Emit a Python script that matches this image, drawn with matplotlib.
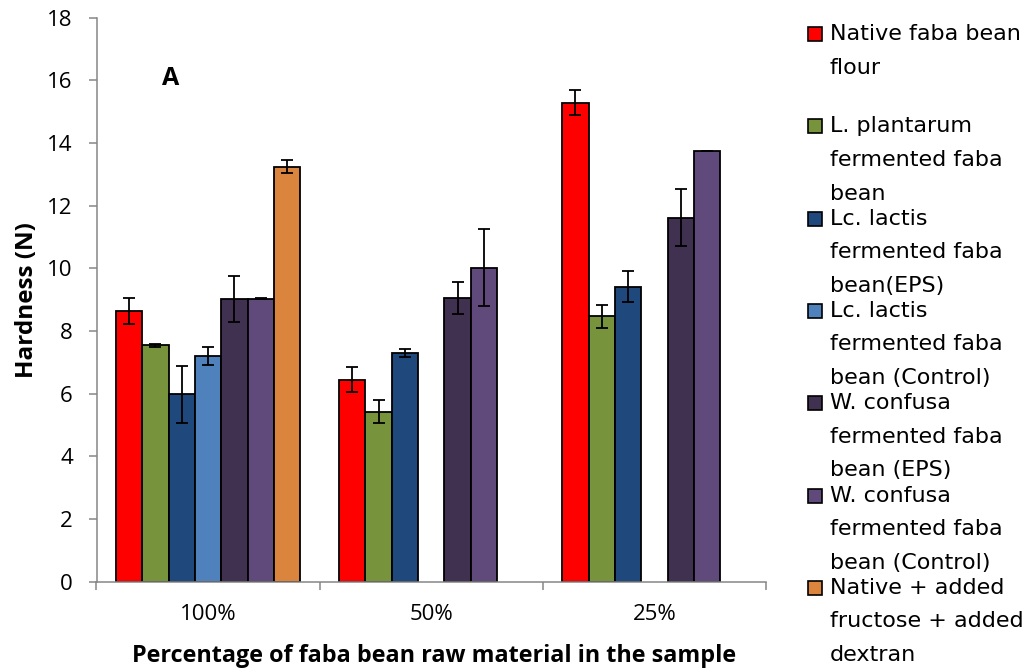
import numpy as np
import matplotlib.pyplot as plt
from matplotlib.patches import Rectangle

# group labels on the x axis
groups = ['100%', '50%', '25%']

# series names (line breaks as drawn in the legend)
series = ['Native faba bean\nflour',
          'L. plantarum\nfermented faba\nbean',
          'Lc. lactis\nfermented faba\nbean(EPS)',
          'Lc. lactis\nfermented faba\nbean (Control)',
          'W. confusa\nfermented faba\nbean (EPS)',
          'W. confusa\nfermented faba\nbean (Control)',
          'Native + added\nfructose + added\ndextran']

colors = ['#FF0000', '#77933C', '#1F497D', '#4F81BD', '#403151', '#604A7B', '#DB843D']

# hardness (N) per series, one value per group; nan = not measured
native = [8.65, 6.45, 15.28]
plantarum = [7.55, 5.43, 8.47]
lactis_eps = [5.98, 7.31, 9.42]
lactis_ctrl = [7.21, np.nan, np.nan]
confusa_eps = [9.03, 9.05, 11.62]
confusa_ctrl = [9.03, 10.02, 13.75]
native_added = [13.25, np.nan, np.nan]

# standard deviations
native_sd = [0.41, 0.40, 0.40]
plantarum_sd = [0.05, 0.36, 0.37]
lactis_eps_sd = [0.91, 0.13, 0.49]
lactis_ctrl_sd = [0.28, np.nan, np.nan]
confusa_eps_sd = [0.74, 0.50, 0.92]
confusa_ctrl_sd = [0.01, 1.23, 0.01]
native_added_sd = [0.20, np.nan, np.nan]

values = [native, plantarum, lactis_eps, lactis_ctrl, confusa_eps, confusa_ctrl, native_added]
errors = [native_sd, plantarum_sd, lactis_eps_sd, lactis_ctrl_sd, confusa_eps_sd, confusa_ctrl_sd, native_added_sd]

W, H = 1029, 670
fig = plt.figure(figsize=(W / 100, H / 100), dpi=100)
ax = fig.add_axes([96.5 / W, 1 - 581.7 / H, 669.5 / W, 564.0 / H])

x = np.arange(len(groups))
bw = 0.118
for i, (v, e) in enumerate(zip(values, errors)):
    v = np.array(v, dtype=float)
    e = np.array(e, dtype=float)
    ok = ~np.isnan(v)
    pos = x[ok] + (i - 3) * bw
    ax.bar(pos, v[ok], bw, color=colors[i], edgecolor='black', linewidth=1.3, zorder=2)
    ax.errorbar(pos, v[ok], yerr=e[ok], fmt='none', ecolor='black',
                elinewidth=1.3, capsize=4, capthick=1.3, zorder=3)

ax.set_xlim(-0.5, 2.5)
ax.set_ylim(0, 18)
ax.set_yticks(np.arange(0, 19, 2))

ax.set_xticks(x)
ax.set_xticklabels(groups)
ax.set_xticks(np.arange(-0.5, 3, 1), minor=True)
ax.tick_params(axis='x', which='major', length=0, pad=16, labelsize=16)
ax.tick_params(axis='x', which='minor', length=6, width=1.1, color='#868686', direction='out')
ax.tick_params(axis='y', length=6, width=1.1, color='#868686', pad=11, labelsize=16)
for lab in ax.get_xticklabels() + ax.get_yticklabels():
    lab.set_family('Open Sans')

for s in ['top', 'right']:
    ax.spines[s].set_visible(False)
for s in ['left', 'bottom']:
    ax.spines[s].set_color('#868686')
    ax.spines[s].set_linewidth(1.1)

ax.set_ylabel('Hardness (N)', fontsize=17.5, fontweight='bold', family='Open Sans', va='center')
ax.yaxis.set_label_coords(-0.104, 0.5)
ax.set_xlabel('Percentage of faba bean raw material in the sample', fontsize=16.8,
              fontweight='bold', family='Open Sans', va='baseline')
ax.xaxis.set_label_coords(0.504, -0.1424)

ax.text(0.111, 0.893, 'A', transform=ax.transAxes, fontsize=18, fontweight='bold',
        family='Open Sans', ha='center', va='center')

# legend, one entry every 92.3 px, text lines every 33.6 px
for i, name in enumerate(series):
    y0 = 34 + 92.3 * i
    fig.patches.append(Rectangle((808 / W, 1 - (y0 + 7) / H), 14 / W, 14 / H,
                                 transform=fig.transFigure, facecolor=colors[i],
                                 edgecolor='black', linewidth=1.2))
    for k, line in enumerate(name.split('\n')):
        fig.text(830 / W, 1 - (y0 + 33.6 * k) / H, line, fontsize=16,
                 family='DejaVu Sans', ha='left', va='center')

fig.savefig('out.png', dpi=100)
